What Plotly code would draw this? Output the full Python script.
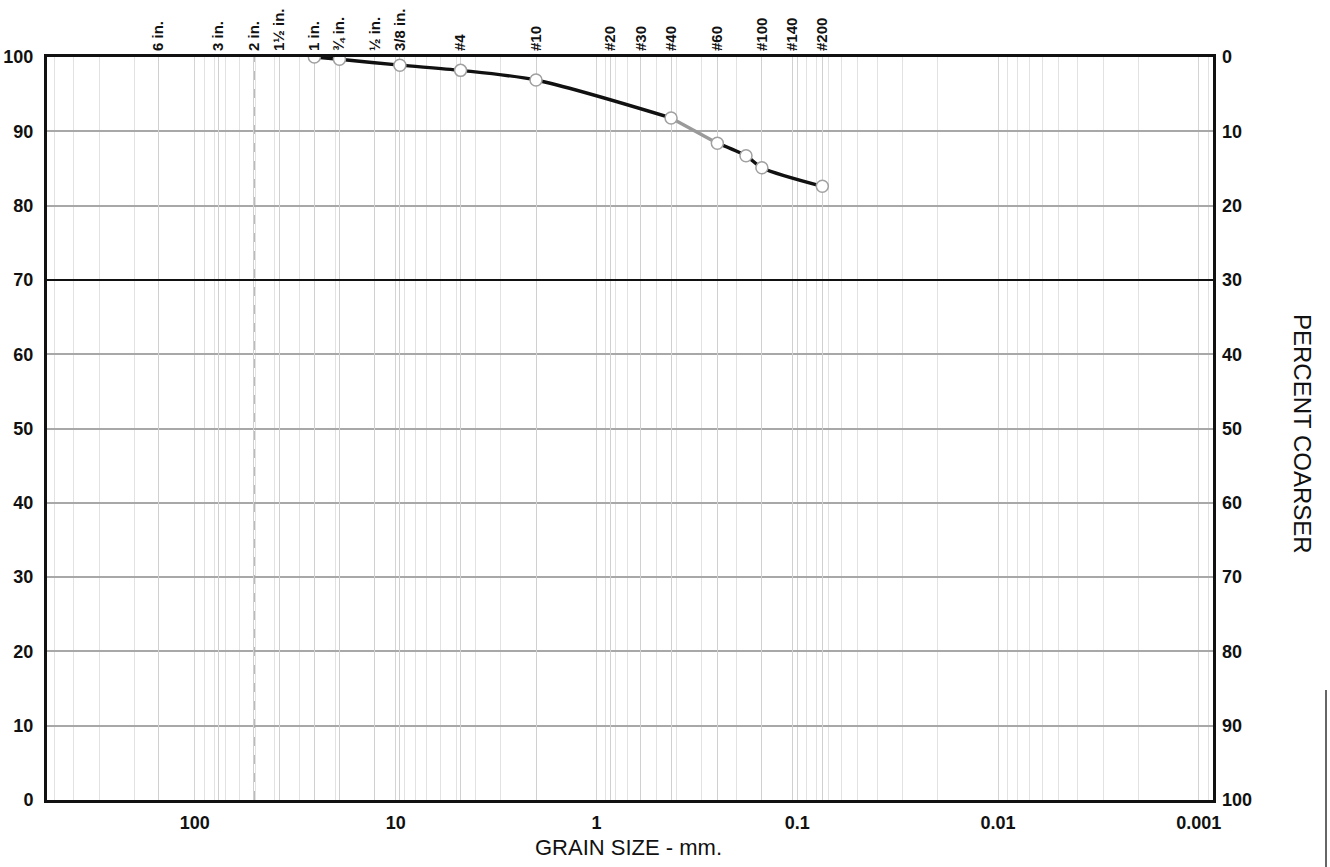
import math
import plotly.graph_objects as go

# ---- data ----
grain_size_mm = [25.4, 19.05, 9.525, 4.75, 2.0, 0.425, 0.25, 0.18, 0.15, 0.075]
percent_finer = [100.0, 99.7, 98.9, 98.2, 96.9, 91.8, 88.4, 86.7, 85.1, 82.6]

sieve_sizes = [152.4, 76.2, 50.8, 38.1, 25.4, 19.05, 12.7, 9.525, 4.75, 2.0,
               0.85, 0.6, 0.425, 0.25, 0.15, 0.106, 0.075]
sieve_labels = ["6 in.", "3 in.", "2 in.", "1½ in.", "1 in.", "¾ in.", "½ in.", "3/8 in.",
                "#4", "#10", "#20", "#30", "#40", "#60", "#100", "#140", "#200"]

x_tick_vals = [100, 10, 1, 0.1, 0.01, 0.001]
x_tick_text = ["100", "10", "1", "0.1", "0.01", "0.001"]
y_tick_vals = [0, 10, 20, 30, 40, 50, 60, 70, 80, 90, 100]

x_range = [math.log10(545), math.log10(0.00085)]
minor_vals = [k * 10 ** e for e in range(-4, 3) for k in range(2, 10)]

FONT = "Liberation Sans, Arial, sans-serif"
NARROW = "Liberation Sans Narrow, Arial Narrow, Liberation Sans, sans-serif"

fig = go.Figure()

line_style = dict(color="#111111", width=3.4, shape="spline", smoothing=0.8)
# main gradation curve (coarse part, #40 -> #60 lighter, fine part)
fig.add_trace(go.Scatter(x=grain_size_mm[:6], y=percent_finer[:6], mode="lines",
                         line=line_style, hoverinfo="skip", showlegend=False))
fig.add_trace(go.Scatter(x=grain_size_mm[5:7], y=percent_finer[5:7], mode="lines",
                         line=dict(color="#9a9a9a", width=3.4), hoverinfo="skip", showlegend=False))
fig.add_trace(go.Scatter(x=grain_size_mm[6:], y=percent_finer[6:], mode="lines",
                         line=line_style, hoverinfo="skip", showlegend=False))
# markers
fig.add_trace(go.Scatter(
    x=grain_size_mm, y=percent_finer, mode="markers",
    marker=dict(size=12, color="white", line=dict(color="#a0a0a0", width=1.5)),
    showlegend=False))
# invisible traces to activate secondary axes
fig.add_trace(go.Scatter(x=[sieve_sizes[0]], y=[50], xaxis="x2", mode="markers",
                         marker=dict(opacity=0), hoverinfo="skip", showlegend=False))
fig.add_trace(go.Scatter(x=[1], y=[50], yaxis="y2", mode="markers",
                         marker=dict(opacity=0), hoverinfo="skip", showlegend=False))

# dashed boundary line at 2 in.
fig.add_shape(type="line", xref="x", yref="paper", x0=sieve_sizes[2], x1=sieve_sizes[2],
              y0=0, y1=1, line=dict(color="#888888", width=1.3, dash="dash"), layer="below")
# black reference line at 70
fig.add_shape(type="line", xref="paper", yref="y", x0=0, x1=1, y0=70, y1=70,
              line=dict(color="#111111", width=2), layer="above")

fig.update_layout(
    width=1330, height=867,
    margin=dict(l=47, r=117, t=57, b=67, autoexpand=False),
    paper_bgcolor="white", plot_bgcolor="white",
    font=dict(family=FONT, color="#111111"),
    xaxis=dict(
        type="log", range=x_range, tickvals=x_tick_vals, ticktext=x_tick_text,
        tickfont=dict(size=18, weight="bold"), ticks="", ticklabelstandoff=4,
        showgrid=True, gridcolor="#d4d4d4", gridwidth=1, automargin=False,
        minor=dict(tickvals=minor_vals, showgrid=True, gridcolor="#e2e2e2", gridwidth=1, ticks=""),
        showline=True, linecolor="#111111", linewidth=3, mirror=True, zeroline=False),
    xaxis2=dict(
        type="log", range=x_range, overlaying="x", side="top", automargin=False,
        tickvals=sieve_sizes, ticktext=sieve_labels, tickangle=-90,
        tickfont=dict(size=15, weight="bold", family=NARROW), ticks="", ticklabelstandoff=5,
        showgrid=True, gridcolor="#d0d0d0", gridwidth=1, showline=False, zeroline=False),
    yaxis=dict(
        range=[0, 100], tickvals=y_tick_vals, tickfont=dict(size=18, weight="bold"),
        ticks="", ticklabelstandoff=7, showgrid=True, gridcolor="#a8a8a8", gridwidth=1.5,
        automargin=False,
        showline=True, linecolor="#111111", linewidth=3, mirror=True, zeroline=False),
    yaxis2=dict(
        range=[100, 0], overlaying="y", side="right", tickvals=y_tick_vals, automargin=False,
        tickfont=dict(size=18, weight="bold"), ticks="", ticklabelstandoff=8, showgrid=False,
        showline=False, zeroline=False),
    annotations=[
        dict(text="GRAIN SIZE - mm.", xref="paper", yref="paper", x=(628 - 47) / 1166,
             y=-47 / 743, xanchor="center", yanchor="middle", showarrow=False,
             font=dict(size=22, family=FONT, color="#111111")),
        dict(text="PERCENT COARSER", xref="paper", yref="paper", x=(1302 - 47) / 1166,
             y=(800 - 434) / 743, xanchor="center", yanchor="middle", textangle=90,
             showarrow=False, font=dict(size=24, family=FONT, color="#111111")),
    ],
)

# thin frame line at far right edge (scan artifact)
fig.add_shape(type="line", xref="paper", yref="paper", x0=(1326 - 47) / 1166, x1=(1326 - 47) / 1166,
              y0=(800 - 690) / 743, y1=-0.1, line=dict(color="#333333", width=1.5))

fig.write_html("out.html")
